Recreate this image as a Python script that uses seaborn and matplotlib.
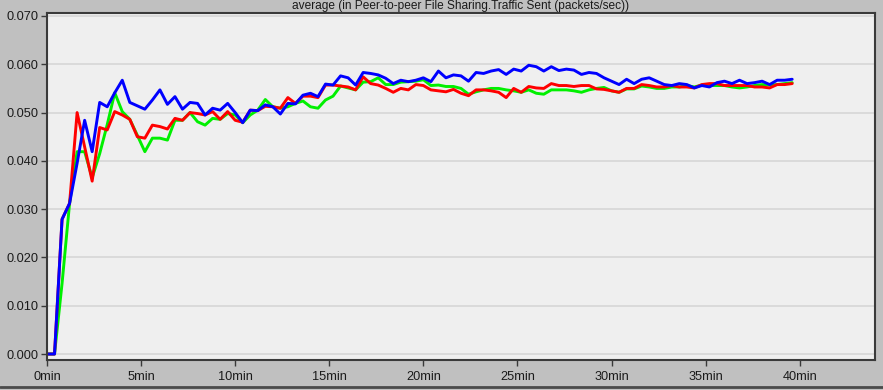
import numpy as np
import pandas as pd
import matplotlib
matplotlib.use("Agg")
import matplotlib.pyplot as plt
import seaborn as sns

# Traffic sent (packets/sec), averaged, sampled every 0.4 minutes
SAMPLE_STEP_MIN = 0.4

run_green = [
    0.0, 0.0, 0.0146, 0.0312, 0.0419, 0.0419, 0.0365, 0.0415, 0.0475, 0.0541,
    0.0502, 0.0486, 0.0453, 0.0419, 0.0447, 0.0447, 0.0443, 0.0484, 0.0484, 0.0500,
    0.0481, 0.0474, 0.0488, 0.0486, 0.0498, 0.0495, 0.0479, 0.0495, 0.0505, 0.0527,
    0.0512, 0.0509, 0.0512, 0.0519, 0.0524, 0.0512, 0.0509, 0.0526, 0.0534, 0.0555,
    0.0551, 0.0547, 0.0563, 0.0564, 0.0572, 0.0558, 0.0558, 0.0563, 0.0564, 0.0565,
    0.0568, 0.0556, 0.0557, 0.0554, 0.0554, 0.0550, 0.0538, 0.0543, 0.0547, 0.0550,
    0.0550, 0.0547, 0.0545, 0.0542, 0.0547, 0.0540, 0.0538, 0.0547, 0.0547, 0.0547,
    0.0545, 0.0542, 0.0547, 0.0550, 0.0552, 0.0545, 0.0542, 0.0549, 0.0549, 0.0555,
    0.0553, 0.0550, 0.0550, 0.0553, 0.0553, 0.0556, 0.0553, 0.0557, 0.0556, 0.0556,
    0.0556, 0.0553, 0.0551, 0.0553, 0.0556, 0.0558, 0.0557, 0.0558, 0.0560, 0.0562,
]

run_red = [
    0.0, 0.0, 0.0279, 0.0312, 0.0500, 0.0429, 0.0358, 0.0469, 0.0464, 0.0502,
    0.0495, 0.0486, 0.0450, 0.0447, 0.0474, 0.0471, 0.0466, 0.0488, 0.0484, 0.0500,
    0.0498, 0.0495, 0.0502, 0.0486, 0.0502, 0.0484, 0.0480, 0.0505, 0.0504, 0.0513,
    0.0512, 0.0509, 0.0531, 0.0519, 0.0534, 0.0534, 0.0531, 0.0557, 0.0557, 0.0555,
    0.0553, 0.0547, 0.0574, 0.0560, 0.0557, 0.0550, 0.0542, 0.0550, 0.0547, 0.0558,
    0.0556, 0.0547, 0.0545, 0.0543, 0.0548, 0.0540, 0.0535, 0.0547, 0.0547, 0.0545,
    0.0542, 0.0531, 0.0550, 0.0542, 0.0554, 0.0551, 0.0550, 0.0560, 0.0556, 0.0556,
    0.0554, 0.0556, 0.0556, 0.0549, 0.0548, 0.0545, 0.0542, 0.0550, 0.0550, 0.0558,
    0.0556, 0.0553, 0.0553, 0.0556, 0.0553, 0.0553, 0.0551, 0.0558, 0.0560, 0.0560,
    0.0556, 0.0556, 0.0556, 0.0556, 0.0553, 0.0553, 0.0551, 0.0558, 0.0558, 0.0560,
]

run_blue = [
    0.0, 0.0, 0.0279, 0.0312, 0.0395, 0.0484, 0.0419, 0.0521, 0.0512, 0.0541,
    0.0567, 0.0521, 0.0514, 0.0507, 0.0526, 0.0547, 0.0517, 0.0533, 0.0507, 0.0521,
    0.0519, 0.0495, 0.0509, 0.0505, 0.0519, 0.0500, 0.0479, 0.0505, 0.0504, 0.0516,
    0.0512, 0.0497, 0.0519, 0.0518, 0.0536, 0.0540, 0.0533, 0.0559, 0.0557, 0.0576,
    0.0572, 0.0557, 0.0583, 0.0581, 0.0578, 0.0571, 0.0560, 0.0567, 0.0564, 0.0567,
    0.0572, 0.0564, 0.0586, 0.0572, 0.0578, 0.0576, 0.0565, 0.0583, 0.0581, 0.0586,
    0.0589, 0.0579, 0.0590, 0.0586, 0.0598, 0.0595, 0.0586, 0.0595, 0.0587, 0.0590,
    0.0588, 0.0579, 0.0583, 0.0581, 0.0572, 0.0565, 0.0558, 0.0569, 0.0560, 0.0569,
    0.0572, 0.0565, 0.0558, 0.0556, 0.0560, 0.0558, 0.0551, 0.0556, 0.0553, 0.0562,
    0.0565, 0.0560, 0.0567, 0.0560, 0.0562, 0.0565, 0.0558, 0.0567, 0.0567, 0.0569,
]

run_names = ["run_green", "run_red", "run_blue"]
run_colors = {"run_green": "#00f000", "run_red": "#ff0000", "run_blue": "#0000ff"}

y_ticks = [0.0, 0.01, 0.02, 0.03, 0.04, 0.05, 0.06, 0.07]
x_ticks = [0, 5, 10, 15, 20, 25, 30, 35, 40]
x_tick_labels = ["0min", "5min", "10min", "15min", "20min", "25min", "30min", "35min", "40min"]
title = "average (in Peer-to-peer File Sharing.Traffic Sent (packets/sec))"

minutes = np.round(np.arange(len(run_blue)) * SAMPLE_STEP_MIN, 1)
frames = []
for name, vals in zip(run_names, [run_green, run_red, run_blue]):
    frames.append(pd.DataFrame({"minutes": minutes, "value": vals, "run": name}))
df = pd.concat(frames, ignore_index=True)

sns.set_style("white")
plt.rcParams["font.family"] = ["Liberation Sans", "DejaVu Sans"]

BG = "#c0c0c0"
PLOT_BG = "#efefef"
DARK = "#3a3a3a"

fig = plt.figure(figsize=(8.83, 3.90), dpi=100, facecolor=BG)
ax = fig.add_axes([47 / 883, 30 / 390, 828 / 883, 347 / 390])
ax.set_facecolor(PLOT_BG)

sns.lineplot(data=df, x="minutes", y="value", hue="run", hue_order=run_names,
             palette=run_colors, linewidth=2.1, legend=False, estimator=None,
             sort=False, ax=ax)

ax.set_xlim(0, 44.0)
ax.set_ylim(-0.00124, 0.07062)
ax.set_yticks(y_ticks)
ax.set_yticklabels([f"{v:.3f}" for v in y_ticks])
ax.set_xticks(x_ticks)
ax.set_xticklabels(x_tick_labels)
ax.set_xlabel("")
ax.set_ylabel("")

ax.yaxis.grid(True, color="#d6d6d6", linewidth=1.2)
ax.xaxis.grid(False)
ax.set_axisbelow(True)

for side, sp in ax.spines.items():
    sp.set_visible(True)
    sp.set_color(DARK)
    sp.set_linewidth(1.5)

ax.tick_params(axis="both", which="major", direction="out", length=4.5,
               width=1.0, color=DARK, labelsize=9.2, labelcolor="#1a1a1a")
ax.tick_params(axis="y", pad=1.5)
ax.tick_params(axis="x", pad=3.5)
ax.tick_params(bottom=True, left=True)

# chart title in the narrow band above the plot frame
fig.text(461 / 883, 1 - 9.5 / 390, title, ha="center", va="baseline",
         fontsize=8.6, color="#1a1a1a")

# dark frame line along the bottom edge
fig.add_artist(plt.Line2D([0, 1], [3.5 / 390, 3.5 / 390], transform=fig.transFigure,
                          color="#4a4a4a", linewidth=2.0))

fig.savefig("out.png", dpi=100, facecolor=BG)
